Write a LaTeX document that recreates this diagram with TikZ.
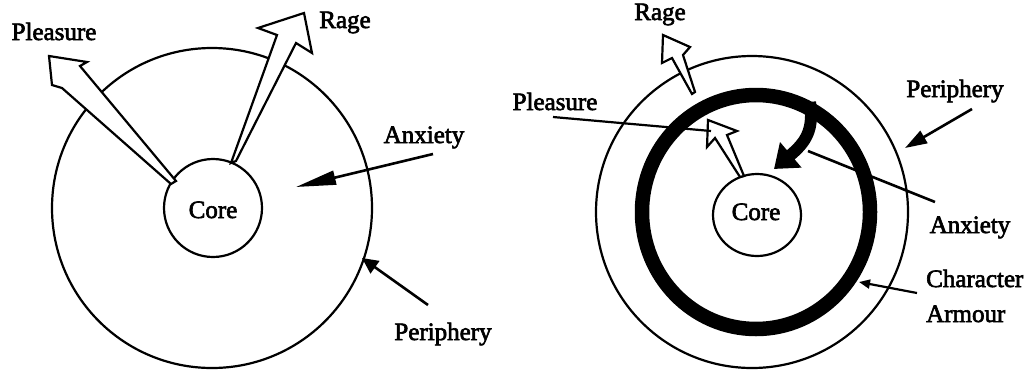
\documentclass[tikz,border=0pt]{standalone}
\usepackage{fontspec}
\newfontfamily\labfont{Liberation Serif}[FakeBold=2.5]
\usetikzlibrary{arrows.meta,shapes.geometric}
\begin{document}
\begin{tikzpicture}[x=1pt,y=-1pt,
  lab/.style={inner sep=0pt,anchor=base,font=\labfont\fontsize{25}{30}\selectfont},
  ring/.style={draw,line width=2.2pt},
  hollow/.style={draw,fill=white,line width=2.2pt,line join=miter},
  pointer/.style={line width=2.6pt},
]
\useasboundingbox (0,0) rectangle (1028,373);
% ---------- left diagram ----------
\draw[ring] (212,208) circle[radius=160];
\node[ring,circle,minimum size=98pt,inner sep=0pt] (coreL) at (213,208) {};
\node[lab] at (213,218) {Core};
% Pleasure arrow (hollow)
\draw[hollow] (171,184) -- (62,88) -- (52,85) -- (49,56) -- (87,62) -- (80,66) -- (176,181) -- cycle;
% Rage arrow (hollow)
\draw[hollow] (231,163) -- (277,35) -- (258,28) -- (304,13) -- (312,53) -- (296,43) -- (236,161) -- cycle;
\node[lab] (pleaL) at (54,40) {Pleasure};
\node[lab] (rageL) at (345,28) {Rage};
\node[lab] (anxL) at (424,143) {Anxiety};
\node[lab] (perL) at (443,340) {Periphery};
\coordinate (anxLs) at (433,154);
\coordinate (anxLt) at (296,187);
\coordinate (perLs) at (428,305);
\coordinate (perLt) at (362,258);
\draw[pointer,-{Triangle[length=40pt,width=14pt]}] (anxLs) -- (anxLt);
\draw[pointer,-{Triangle[length=16pt,width=15pt]}] (perLs) -- (perLt);
% ---------- right diagram ----------
\draw[ring] (752,212) circle[radius=156];
\draw[line width=14.5pt] (756,212) ellipse[x radius=114, y radius=117];
\node[ring,ellipse,minimum width=88pt,minimum height=82pt,inner sep=0pt] (coreR) at (757,215) {};
\node[lab] at (756,220) {Core};
% curved anxiety arrow
\draw[line width=12pt,-{Triangle[length=22pt,width=32pt]}] (810,102) .. controls (814,130) and (806,142) .. (774,169);
% Rage hollow
\draw[hollow] (692,94) -- (672,58) -- (662,63) -- (663,35) -- (690,47) -- (683,55) -- (695,92) -- cycle;
% Pleasure hollow
\draw[hollow] (740,177) -- (715,138) -- (707,147) -- (708,120) -- (737,131) -- (727,135) -- (744,176) -- cycle;
\node[lab] (rageR) at (660,20) {Rage};
\node[lab] (pleaR) at (555,110) {Pleasure};
\node[lab] (perR) at (955,97) {Periphery};
\node[lab] (anxR) at (970,233) {Anxiety};
\node[lab,anchor=base west] (charR) at (926,287) {Character};
\node[lab,anchor=base west] (armR) at (926,322) {Armour};
\coordinate (pleaRs) at (553,117);
\coordinate (pleaRt) at (711,131);
\coordinate (anxRs) at (935,202);
\coordinate (anxRt) at (808,151);
\coordinate (perRs) at (972,109);
\coordinate (perRt) at (905,148);
\coordinate (armRs) at (917,293);
\coordinate (armRt) at (859,282);
\draw[line width=2.2pt] (pleaRs) -- (pleaRt);
\draw[pointer] (anxRs) -- (anxRt);
\draw[pointer,-{Triangle[length=22pt,width=14pt]}] (perRs) -- (perRt);
\draw[line width=2.2pt,-{Triangle[length=11pt,width=9pt]}] (armRs) -- (armRt);
\end{tikzpicture}
\end{document}
